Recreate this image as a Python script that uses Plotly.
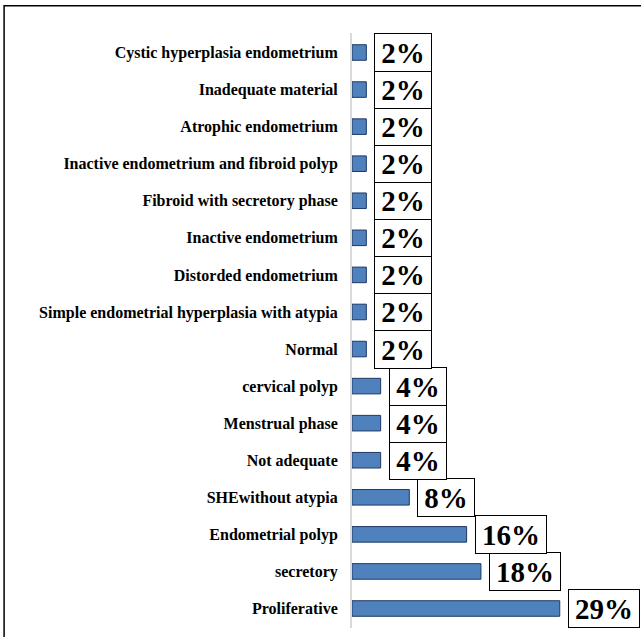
import plotly.graph_objects as go

categories = [
    "Proliferative", "secretory", "Endometrial polyp", "SHEwithout atypia",
    "Not adequate", "Menstrual phase", "cervical polyp", "Normal",
    "Simple endometrial hyperplasia with atypia", "Distorded endometrium",
    "Inactive endometrium", "Fibroid with secretory phase",
    "Inactive endometrium and fibroid polyp", "Atrophic endometrium",
    "Inadequate material", "Cystic hyperplasia endometrium",
]
values = [29, 18, 16, 8, 4, 4, 4, 2, 2, 2, 2, 2, 2, 2, 2, 2]
labels = [f"{v}%" for v in values]

SERIF = "Liberation Serif"

fig = go.Figure(go.Bar(
    x=values, y=categories, orientation="h",
    marker=dict(color="#4f81bd", line=dict(color="#1f3864", width=1)),
    hoverinfo="skip",
))

for v, c, t in zip(values, categories, labels):
    fig.add_annotation(
        x=v, y=c, text=f"<b>{t}</b>", showarrow=False, xanchor="left", xshift=8,
        font=dict(family=SERIF, size=29, color="black"),
        bordercolor="black", borderwidth=1, borderpad=2,
        bgcolor="white", width=(52 if len(t) == 2 else 66), height=33,
    )

fig.add_shape(type="rect", xref="paper", yref="paper",
              x0=-1.42, x1=1.5, y0=-0.1, y1=1.046,
              line=dict(color="black", width=1.5), layer="above")

fig.update_layout(
    width=641, height=637,
    margin=dict(l=352, r=44, t=33, b=9),
    plot_bgcolor="white", paper_bgcolor="white",
    bargap=0.58, showlegend=False,
    xaxis=dict(range=[0, 34.2], visible=False, showgrid=False, zeroline=False),
    yaxis=dict(
        categoryorder="array", categoryarray=categories,
        tickmode="array", tickvals=categories,
        ticktext=[f"<b>{c}</b>" for c in categories],
        showline=True, linecolor="#d9d9d9", linewidth=2,
        showgrid=False, ticks="", ticklabelstandoff=9,
        tickfont=dict(family=SERIF, size=16, color="black"),
    ),
)

fig.write_html("out.html")
